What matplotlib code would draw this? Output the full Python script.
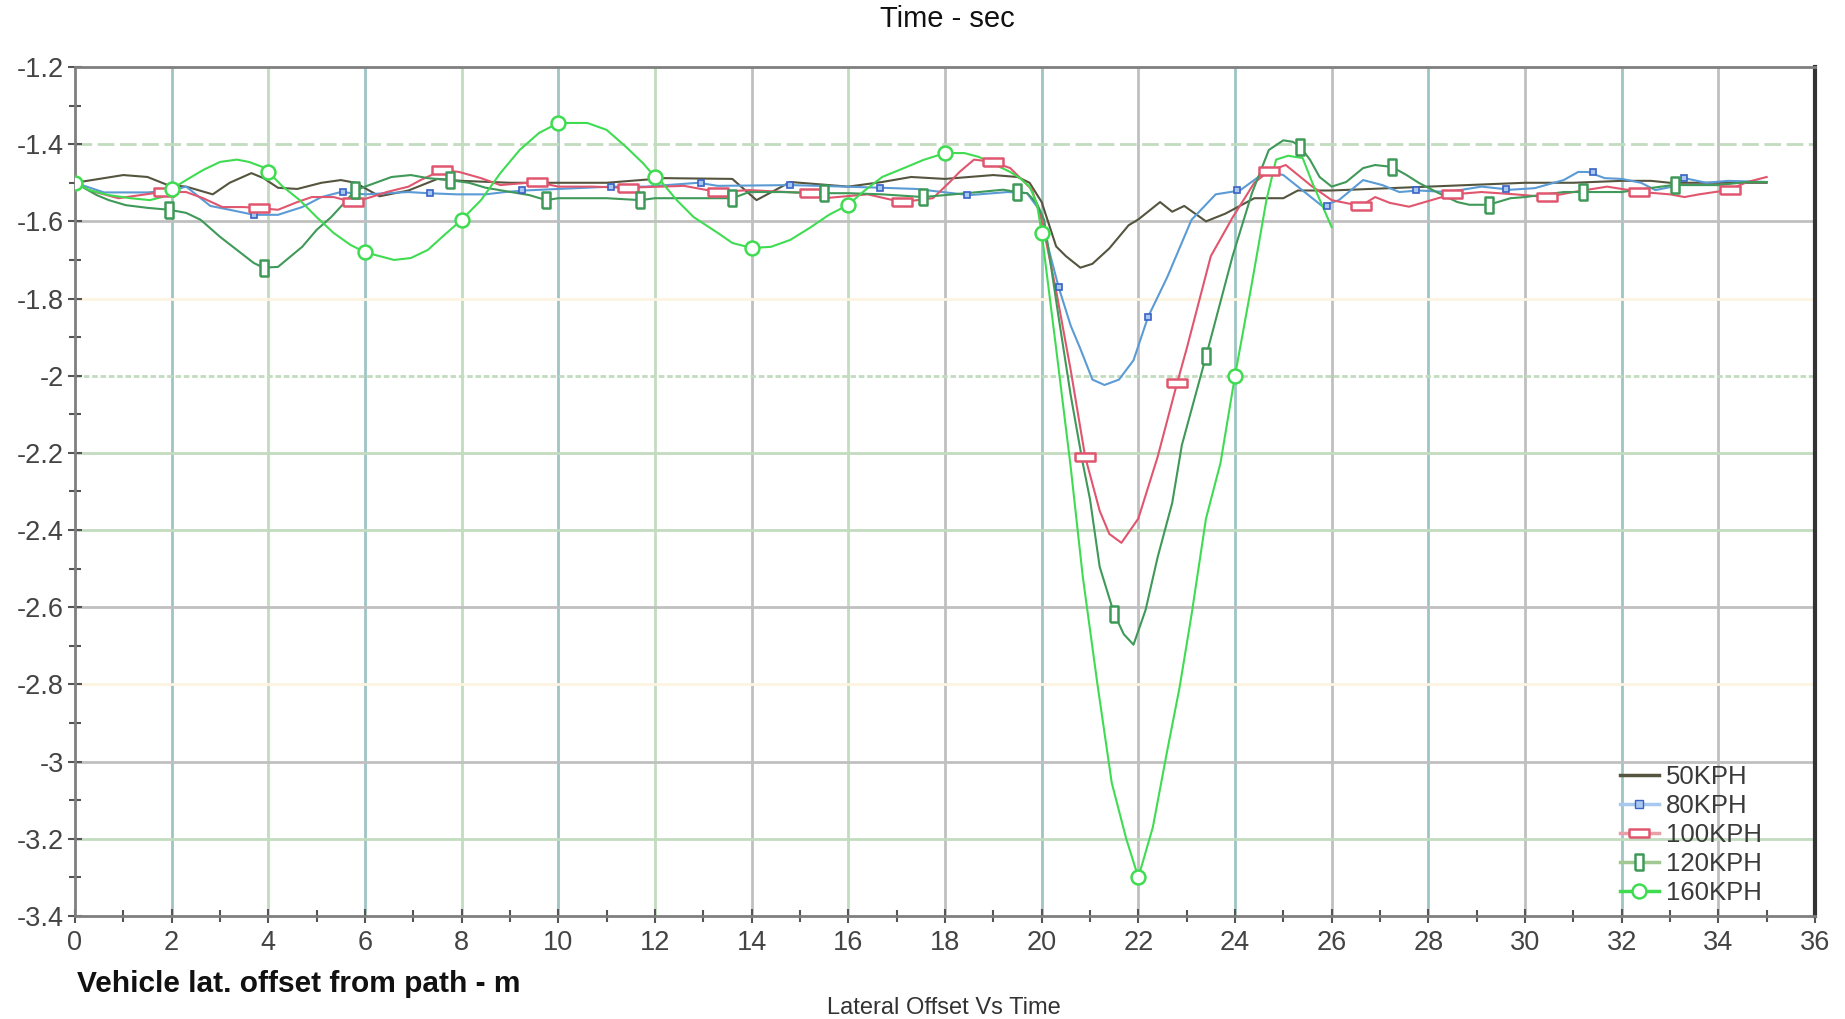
import matplotlib
matplotlib.use("Agg")
import matplotlib.pyplot as plt
from matplotlib.lines import Line2D

plt.rcParams['font.family'] = ['Liberation Sans', 'DejaVu Sans']

# ---- data ----
s50_x = [0, 0.5, 1, 1.5, 1.9, 2.3, 2.85, 3.2, 3.65, 3.9, 4.2, 4.6, 5.1, 5.5, 5.8,
         6.3, 6.9, 7.5, 8.0, 9.0, 10.0, 11.0, 12.2, 13.6, 14.1, 14.8, 16.0, 16.7,
         17.3, 18.0, 19.0, 19.5, 19.75, 20.0, 20.3, 20.5, 20.8, 21.05, 21.4, 21.8,
         22.0, 22.45, 22.7, 22.95, 23.4, 23.8, 24.4, 25.0, 25.3, 26.0, 27.0, 28.0,
         29.0, 30.0, 31.0, 32.0, 32.6, 33.0, 34.0, 35.0]
s50_y = [-1.50, -1.49, -1.48, -1.485, -1.505, -1.51, -1.53, -1.50, -1.475, -1.488,
         -1.513, -1.516, -1.50, -1.493, -1.50, -1.535, -1.52, -1.49, -1.495, -1.50,
         -1.50, -1.50, -1.488, -1.49, -1.545, -1.498, -1.51, -1.498, -1.485, -1.49,
         -1.48, -1.485, -1.50, -1.55, -1.665, -1.69, -1.72, -1.71, -1.67, -1.61,
         -1.595, -1.55, -1.575, -1.56, -1.60, -1.58, -1.54, -1.54, -1.52, -1.52,
         -1.515, -1.51, -1.505, -1.50, -1.50, -1.495, -1.495, -1.50, -1.50, -1.50]

s80_x = [0, 0.6, 1.5, 2.0, 2.3, 2.8, 3.2, 3.7, 4.2, 4.7, 5.1, 5.5, 6.0, 6.9, 7.3,
         7.9, 8.5, 8.9, 9.3, 10.0, 11.1, 11.8, 12.9, 13.3, 14.8, 15.4, 16.7, 17.4,
         18.5, 19.3, 19.7, 19.95, 20.15, 20.35, 20.6, 20.8, 21.05, 21.3, 21.6, 21.9,
         22.2, 22.6, 23.1, 23.6, 24.1, 24.65, 25.0, 25.3, 25.8, 26.15, 26.65, 27.05,
         27.4, 27.8, 28.4, 29.1, 29.7, 30.2, 30.8, 31.1, 31.3, 31.65, 32.0, 32.4,
         32.7, 33.05, 33.3, 33.75, 34.2, 35.0]
s80_y = [-1.50, -1.525, -1.525, -1.52, -1.51, -1.56, -1.57, -1.583, -1.583, -1.563,
         -1.537, -1.524, -1.53, -1.524, -1.527, -1.53, -1.53, -1.524, -1.52, -1.516,
         -1.51, -1.51, -1.50, -1.508, -1.506, -1.508, -1.513, -1.516, -1.532, -1.524,
         -1.527, -1.57, -1.674, -1.77, -1.87, -1.93, -2.01, -2.024, -2.01, -1.96,
         -1.848, -1.744, -1.596, -1.53, -1.52, -1.47, -1.48, -1.51, -1.56, -1.545,
         -1.493, -1.506, -1.524, -1.52, -1.524, -1.51, -1.518, -1.514, -1.493, -1.472,
         -1.472, -1.488, -1.49, -1.50, -1.519, -1.51, -1.488, -1.50, -1.495, -1.498]
m80_x = [3.7, 5.55, 7.35, 9.25, 11.1, 12.95, 14.8, 16.65, 18.45, 20.35, 22.2,
         24.05, 25.9, 27.75, 29.6, 31.4, 33.3]
m80_y = [-1.583, -1.524, -1.527, -1.52, -1.51, -1.50, -1.506, -1.513, -1.532, -1.77,
         -1.848, -1.52, -1.56, -1.52, -1.515, -1.472, -1.488]

s100_x = [0, 0.3, 0.6, 0.9, 1.35, 1.8, 2.3, 2.65, 3.05, 3.5, 3.85, 4.2, 4.6, 4.9,
          5.35, 5.75, 6.05, 6.45, 6.9, 7.15, 7.6, 7.95, 8.4, 8.8, 9.55, 10.0, 10.7,
          11.4, 12.6, 13.3, 13.95, 15.2, 15.5, 16.4, 17.1, 17.75, 18.1, 18.3, 18.6,
          19.0, 19.35, 19.6, 19.8, 20.0, 20.3, 20.6, 20.9, 21.2, 21.4, 21.65, 22.0,
          22.4, 22.8, 23.0, 23.5, 23.95, 24.4, 24.7, 25.05, 25.6, 26.0, 26.6, 26.9,
          27.2, 27.6, 28.2, 28.5, 29.1, 29.8, 30.45, 31.0, 31.7, 32.4, 33.0, 33.3,
          33.6, 34.2, 34.6, 35.0]
s100_y = [-1.50, -1.52, -1.53, -1.54, -1.532, -1.524, -1.524, -1.54, -1.563, -1.563,
          -1.566, -1.57, -1.55, -1.537, -1.537, -1.55, -1.54, -1.524, -1.51, -1.493,
          -1.467, -1.472, -1.488, -1.506, -1.498, -1.51, -1.51, -1.513, -1.508, -1.524,
          -1.519, -1.527, -1.54, -1.53, -1.55, -1.54, -1.498, -1.472, -1.44, -1.446,
          -1.462, -1.493, -1.518, -1.596, -1.78, -1.985, -2.21, -2.35, -2.41, -2.433,
          -2.37, -2.21, -2.02, -1.93, -1.69, -1.59, -1.50, -1.47, -1.454, -1.51,
          -1.545, -1.56, -1.537, -1.552, -1.562, -1.54, -1.53, -1.524, -1.53, -1.537,
          -1.524, -1.51, -1.524, -1.53, -1.537, -1.53, -1.519, -1.498, -1.485]
m100_x = [1.85, 3.8, 5.75, 7.6, 9.55, 11.45, 13.3, 15.2, 17.1, 19.0, 20.9, 22.8,
          24.7, 26.6, 28.5, 30.45, 32.35, 34.25]
m100_y = [-1.524, -1.566, -1.55, -1.467, -1.498, -1.513, -1.524, -1.527, -1.55,
          -1.446, -2.21, -2.02, -1.47, -1.56, -1.53, -1.537, -1.524, -1.519]

s120_x = [0, 0.45, 0.7, 1.05, 1.5, 1.95, 2.3, 2.6, 3.0, 3.35, 3.7, 3.9, 4.2, 4.45,
          4.7, 5.0, 5.3, 5.55, 5.8, 6.0, 6.55, 6.95, 7.3, 7.75, 8.15, 8.5, 9.4, 9.75,
          10.0, 11.0, 11.7, 12.0, 13.6, 13.95, 14.6, 15.5, 16.0, 16.7, 17.55, 18.7,
          19.2, 19.5, 19.7, 19.9, 20.05, 20.35, 20.6, 20.85, 21.0, 21.2, 21.5, 21.7,
          21.9, 22.15, 22.4, 22.7, 22.9, 23.4, 23.95, 24.35, 24.7, 25.0, 25.2, 25.35,
          25.55, 25.75, 26.0, 26.3, 26.65, 26.9, 27.25, 27.55, 27.8, 28.2, 28.6,
          28.85, 29.25, 29.7, 30.0, 30.8, 31.2, 32.0, 33.05, 34.0, 34.6, 35.0]
s120_y = [-1.50, -1.532, -1.545, -1.558, -1.565, -1.57, -1.578, -1.596, -1.64, -1.674,
          -1.708, -1.72, -1.718, -1.692, -1.666, -1.622, -1.589, -1.555, -1.52, -1.51,
          -1.485, -1.48, -1.488, -1.493, -1.50, -1.513, -1.532, -1.545, -1.54, -1.54,
          -1.545, -1.54, -1.54, -1.524, -1.524, -1.527, -1.527, -1.53, -1.537, -1.524,
          -1.518, -1.524, -1.527, -1.553, -1.596, -1.848, -2.05, -2.226, -2.32, -2.495,
          -2.617, -2.67, -2.697, -2.607, -2.47, -2.33, -2.18, -1.95, -1.69, -1.527,
          -1.415, -1.39, -1.394, -1.407, -1.44, -1.485, -1.51, -1.498, -1.462, -1.454,
          -1.459, -1.48, -1.50, -1.526, -1.55, -1.557, -1.557, -1.54, -1.537, -1.524,
          -1.524, -1.524, -1.506, -1.506, -1.498, -1.498]
m120_x = [1.95, 3.9, 5.8, 7.75, 9.75, 11.7, 13.6, 15.5, 17.55, 19.5, 21.5, 23.4,
          25.35, 27.25, 29.25, 31.2, 33.1]
m120_y = [-1.57, -1.72, -1.52, -1.493, -1.545, -1.545, -1.54, -1.527, -1.537, -1.524,
          -2.617, -1.95, -1.407, -1.459, -1.557, -1.524, -1.506]

s160_x = [0, 0.3, 0.7, 1.15, 1.55, 1.8, 2.0, 2.3, 2.65, 3.0, 3.35, 3.6, 3.9, 4.0,
          4.3, 4.65, 5.0, 5.35, 5.7, 6.0, 6.6, 6.95, 7.3, 7.6, 8.0, 8.4, 8.8, 9.2,
          9.6, 10.0, 10.6, 11.0, 11.4, 11.75, 12.0, 12.15, 12.45, 12.8, 13.3, 13.6,
          14.0, 14.4, 14.8, 15.2, 15.6, 16.0, 16.3, 16.7, 17.15, 17.55, 18.0, 18.4,
          18.7, 19.05, 19.35, 19.55, 19.75, 19.9, 20.0, 20.3, 20.6, 20.85, 21.15,
          21.45, 21.75, 22.0, 22.3, 22.6, 22.85, 23.1, 23.4, 23.7, 24.0, 24.35, 24.65,
          24.85, 25.1, 25.4, 25.6, 26.0]
s160_y = [-1.50, -1.519, -1.532, -1.54, -1.545, -1.537, -1.516, -1.493, -1.467, -1.446,
          -1.44, -1.446, -1.46, -1.472, -1.51, -1.545, -1.589, -1.63, -1.661, -1.68,
          -1.70, -1.695, -1.674, -1.64, -1.596, -1.545, -1.475, -1.415, -1.371, -1.345,
          -1.345, -1.363, -1.407, -1.449, -1.485, -1.50, -1.545, -1.589, -1.63, -1.656,
          -1.669, -1.666, -1.648, -1.617, -1.583, -1.557, -1.524, -1.485, -1.462, -1.441,
          -1.423, -1.423, -1.433, -1.454, -1.472, -1.488, -1.51, -1.553, -1.63, -1.93,
          -2.236, -2.52, -2.796, -3.055, -3.20, -3.30, -3.17, -2.97, -2.81, -2.62,
          -2.37, -2.226, -2.0, -1.76, -1.545, -1.44, -1.43, -1.436, -1.50, -1.615]
m160_x = [0, 2, 4, 6, 8, 10, 12, 14, 16, 18, 20, 22, 24]
m160_y = [-1.50, -1.516, -1.472, -1.68, -1.596, -1.345, -1.485, -1.669, -1.557,
          -1.423, -1.63, -3.30, -2.0]

labels = ["50KPH", "80KPH", "100KPH", "120KPH", "160KPH"]
x_ticks = list(range(0, 37, 2))
y_ticks = [-1.2, -1.4, -1.6, -1.8, -2.0, -2.2, -2.4, -2.6, -2.8, -3.0, -3.2, -3.4]
y_labels = ["-1.2", "-1.4", "-1.6", "-1.8", "-2", "-2.2", "-2.4", "-2.6", "-2.8",
            "-3", "-3.2", "-3.4"]

# ---- styles ----
C50, C80, C100, C120, C160 = "#55553f", "#5b9bd5", "#e0566e", "#3f9958", "#3fdc52"
TEAL, LGREEN, GRAY, CREAM = "#9ec4c4", "#c2dcc0", "#c0c0c0", "#fcf4e0"
WIDE = [(-1, -0.4), (1, -0.4), (1, 0.4), (-1, 0.4), (-1, -0.4)]
TALL = [(-0.45, -1), (0.45, -1), (0.45, 1), (-0.45, 1), (-0.45, -1)]

fig = plt.figure(figsize=(18.45, 10.19), dpi=100)
ax = fig.add_axes([75 / 1845, 103 / 1019, 1740 / 1845, 849 / 1019])

# grid lines, coloured like the reference
vcol = {2: TEAL, 4: LGREEN, 6: TEAL, 8: LGREEN, 10: TEAL, 12: LGREEN, 14: GRAY,
        16: LGREEN, 18: GRAY, 20: TEAL, 22: GRAY, 24: TEAL, 26: GRAY, 28: TEAL,
        30: GRAY, 32: TEAL, 34: GRAY}
for v, c in vcol.items():
    ax.axvline(v, color=c, lw=2, zorder=1)
hcol = {-1.4: (LGREEN, (0, (6, 2))), -1.6: (GRAY, "-"), -1.8: (CREAM, "-"),
        -2.0: (LGREEN, (0, (2, 1))), -2.2: (LGREEN, "-"), -2.4: (LGREEN, "-"),
        -2.6: (GRAY, "-"), -2.8: (CREAM, "-"), -3.0: (GRAY, "-"), -3.2: (LGREEN, "-")}
for v, (c, ls) in hcol.items():
    ax.axhline(v, color=c, lw=2, ls=ls, zorder=1)

lw = 1.5
ax.plot(s50_x, s50_y, color=C50, lw=lw, zorder=3)
ax.plot(s80_x, s80_y, color=C80, lw=lw, zorder=3)
ax.plot(m80_x, m80_y, ls="none", marker="s", ms=5, mfc="#a8c8f0", mec="#3a62c4", mew=1.2, zorder=4)
ax.plot(s100_x, s100_y, color=C100, lw=lw, zorder=3)
ax.plot(m100_x, m100_y, ls="none", marker=WIDE, ms=14, mfc="white", mec=C100, mew=1.8, zorder=4)
ax.plot(s120_x, s120_y, color=C120, lw=lw, zorder=3)
ax.plot(m120_x, m120_y, ls="none", marker=TALL, ms=12, mfc="white", mec=C120, mew=1.8, zorder=4)
ax.plot(s160_x, s160_y, color=C160, lw=lw, zorder=3)
ax.plot(m160_x, m160_y, ls="none", marker="o", ms=10, mfc="white", mec=C160, mew=1.8, zorder=4)

ax.set_xlim(0, 36)
ax.set_ylim(-3.4, -1.2)
ax.set_xticks(x_ticks)
ax.set_xticklabels([str(v) for v in x_ticks])
ax.set_xticks(range(1, 36, 2), minor=True)
ax.set_yticks(y_ticks)
ax.set_yticklabels(y_labels)
ax.set_yticks([-1.3 - 0.2 * i for i in range(11)], minor=True)
ax.tick_params(which="both", direction="inout", color="#555555", width=1.5,
               labelcolor="#444444", labelsize=19.5)
ax.tick_params(which="major", length=10)
ax.tick_params(which="minor", length=8)
ax.tick_params(axis="x", pad=5)
ax.tick_params(axis="y", pad=3)

for s in ["left", "bottom", "top"]:
    ax.spines[s].set_color("#7f7f7f")
    ax.spines[s].set_linewidth(2)
ax.spines["right"].set_color("#333333")
ax.spines["right"].set_linewidth(3)

handles = [
    Line2D([], [], color=C50, lw=2.5),
    Line2D([], [], color="#a8c8f0", lw=2.5, marker="s", ms=6, mfc="#a8c8f0", mec="#3a62c4"),
    Line2D([], [], color="#e8a0a8", lw=2.5, marker=WIDE, ms=14, mfc="white", mec=C100, mew=1.8),
    Line2D([], [], color="#a0c890", lw=2.5, marker=TALL, ms=12, mfc="white", mec=C120, mew=1.8),
    Line2D([], [], color=C160, lw=2.5, marker="o", ms=10, mfc="white", mec=C160, mew=1.8),
]
ax.legend(handles, labels, loc="upper left", bbox_to_anchor=(0.888, 0.178),
          frameon=False, fontsize=18.5, handlelength=1.5, handletextpad=0.3,
          labelspacing=0.2, borderaxespad=0, borderpad=0,
          labelcolor="#3a3a3a")

fig.text(947 / 1845, 1 - 27 / 1019, "Time - sec", ha="center", va="baseline",
         fontsize=21, color="#111111")
fig.text(77 / 1845, 1 - 992 / 1019, "Vehicle lat. offset from path - m", ha="left",
         va="baseline", fontsize=21.5, fontweight="bold", color="#111111")
fig.text(944 / 1845, 1 - 1014 / 1019, "Lateral Offset Vs Time", ha="center",
         va="baseline", fontsize=17, color="#333333")

fig.savefig("out.png", dpi=100, facecolor="white")
